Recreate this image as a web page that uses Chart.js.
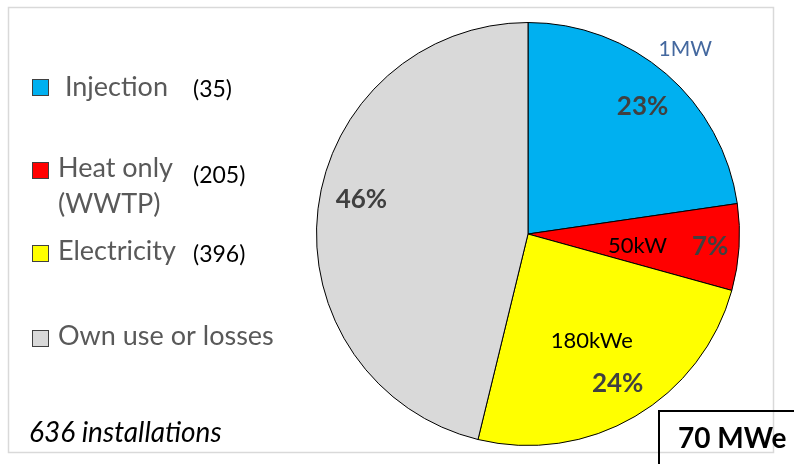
<!DOCTYPE html>
<html><head><meta charset="utf-8">
<script src="https://cdn.jsdelivr.net/npm/chart.js@4/dist/chart.umd.min.js"></script>
<style>
html,body{margin:0;padding:0;background:#fff;width:794px;height:464px;overflow:hidden}
#wrap{position:absolute;left:0;top:0;width:794px;height:464px}
</style></head>
<body><div id="wrap"><canvas id="c" width="794" height="464"></canvas></div>
<script>
// ---- data ----
const categories = ["Injection", "Heat only (WWTP)", "Electricity", "Own use or losses"];
const legendLines = [[" Injection"], ["Heat only", "(WWTP)"], ["Electricity"], ["Own use or losses"]];
const installationCounts = ["(35)", "(205)", "(396)", ""];
const shares = [22.7, 6.6, 24.5, 46.2];
const shareLabels = ["23%", "7%", "24%", "46%"];
const unitSizes = ["1MW", "50kW", "180kWe", ""];
const totalInstallations = "636 installations";
const totalPower = "70 MWe";

// ---- styles ----
const sliceColors = ["#00b0f0", "#ff0000", "#ffff00", "#d9d9d9"];
const unitColors = ["#44689f", "#000000", "#000000", "#000000"];
const unitFontSizes = [21, 22, 22, 22];
const FONT = "Lato, 'Open Sans', sans-serif";
const CAP = 0.72;

// placement of in-pie labels relative to slice middle: [angle offset deg, radius fraction]
const pctPlace = [[0.8, 0.815], [0.2, 0.863], [-0.7, 0.82], [5.0, 0.805]];
const unitPlace = [[-0.6, 1.15], [2.1, 0.52], [-0.7, 0.584], [0, 0]];

// legend layout
const legendLayout = {
  boxX: 32, boxSize: 16, textX: 58, countX: 193,
  rows: [
    {boxTop: 79, baselines: [96], countBase: 96.5},
    {boxTop: 162, baselines: [177, 213], countBase: 183},
    {boxTop: 245, baselines: [260], countBase: 261.5},
    {boxTop: 330, baselines: [345], countBase: 345}
  ]
};

function centeredText(ctx, txt, cx, cy, size) {
  ctx.textAlign = "center";
  ctx.textBaseline = "alphabetic";
  ctx.fillText(txt, cx, cy + size * CAP / 2);
}

const decor = {
  id: "decor",
  beforeDraw(chart) {
    const ctx = chart.ctx;
    ctx.save();
    ctx.fillStyle = "#fff";
    ctx.fillRect(0, 0, chart.width, chart.height);
    ctx.strokeStyle = "#d9d9d9";
    ctx.lineWidth = 1.5;
    ctx.strokeRect(8.5, 7.5, 765, 445);
    ctx.restore();
  },
  afterDatasetsDraw(chart) {
    const ctx = chart.ctx;
    const arcs = chart.getDatasetMeta(0).data;
    ctx.save();
    arcs.forEach((arc, i) => {
      const p = arc.getProps(["x", "y", "startAngle", "endAngle", "outerRadius"], true);
      const mid = (p.startAngle + p.endAngle) / 2;
      // percentage
      let a = mid + pctPlace[i][0] * Math.PI / 180, r = p.outerRadius * pctPlace[i][1];
      ctx.font = "bold 26px " + FONT;
      ctx.fillStyle = "#404040";
      centeredText(ctx, shareLabels[i], p.x + Math.cos(a) * r, p.y + Math.sin(a) * r, 26);
      // unit size
      if (unitSizes[i]) {
        a = mid + unitPlace[i][0] * Math.PI / 180; r = p.outerRadius * unitPlace[i][1];
        ctx.font = unitFontSizes[i] + "px " + FONT;
        ctx.fillStyle = unitColors[i];
        centeredText(ctx, unitSizes[i], p.x + Math.cos(a) * r, p.y + Math.sin(a) * r, unitFontSizes[i]);
      }
    });
    // legend
    ctx.textAlign = "left";
    ctx.textBaseline = "alphabetic";
    legendLayout.rows.forEach((row, i) => {
      ctx.fillStyle = sliceColors[i];
      ctx.fillRect(legendLayout.boxX, row.boxTop, legendLayout.boxSize, legendLayout.boxSize);
      ctx.strokeStyle = "#404040";
      ctx.lineWidth = 1;
      ctx.strokeRect(legendLayout.boxX + 0.5, row.boxTop + 0.5, legendLayout.boxSize, legendLayout.boxSize);
      ctx.font = "27px " + FONT;
      ctx.fillStyle = "#595959";
      legendLines[i].forEach((ln, j) => ctx.fillText(ln, legendLayout.textX, row.baselines[j]));
      if (installationCounts[i]) {
        ctx.font = "23px " + FONT;
        ctx.fillStyle = "#000";
        ctx.fillText(installationCounts[i], legendLayout.countX, row.countBase);
      }
    });
    // note
    ctx.font = "italic 28px " + FONT;
    ctx.fillStyle = "#000";
    ctx.fillText(totalInstallations, 29, 442);
    // total power box
    ctx.strokeStyle = "#000";
    ctx.lineWidth = 2;
    ctx.strokeRect(659, 411, 160, 80);
    ctx.font = "bold 28px " + FONT;
    ctx.fillText(totalPower, 678, 448);
    ctx.restore();
  }
};

new Chart(document.getElementById("c"), {
  type: "pie",
  data: {
    labels: categories,
    datasets: [{
      data: shares,
      backgroundColor: sliceColors,
      borderColor: "#000",
      borderWidth: 1
    }]
  },
  options: {
    responsive: false,
    animation: false,
    devicePixelRatio: 1,
    layout: {padding: {left: 316, right: 54, top: 22, bottom: 18}},
    plugins: {legend: {display: false}, tooltip: {enabled: false}}
  },
  plugins: [decor]
});
</script>
</body></html>
